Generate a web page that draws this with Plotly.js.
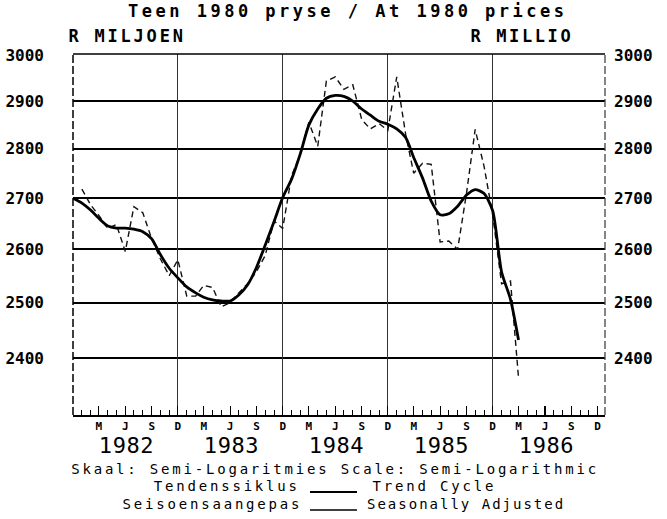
<!DOCTYPE html>
<html><head><meta charset="utf-8">
<script src="https://cdn.plot.ly/plotly-3.0.1.min.js"></script>
<style>html,body{margin:0;padding:0;background:#fff}</style>
</head><body>
<div id="chart" style="width:667px;height:519px"></div>
<script>
// ---- data ----
const trendMonths = ['1981-12',
 '1982-01','1982-02','1982-03','1982-04','1982-05','1982-06','1982-07','1982-08','1982-09','1982-10','1982-11','1982-12',
 '1983-01','1983-02','1983-03','1983-04','1983-05','1983-06','1983-07','1983-08','1983-09','1983-10','1983-11','1983-12',
 '1984-01','1984-02','1984-03','1984-04','1984-05','1984-06','1984-07','1984-08','1984-09','1984-10','1984-11','1984-12',
 '1985-01','1985-02','1985-03','1985-04','1985-05','1985-06','1985-07','1985-08','1985-09','1985-10','1985-11','1985-12',
 '1986-01','1986-02','1986-03'];
const trendValues = [2700,
 2690,2676,2660,2645,2641,2641,2639,2634,2620,2590,2564,2546,
 2529,2518,2510,2505,2503,2503,2514,2533,2566,2608,2654,2701,
 2738,2791,2849,2883,2906,2912,2910,2900,2883,2870,2857,2851,
 2841,2823,2782,2740,2694,2667,2669,2684,2706,2717,2709,2675,
 2557,2506,2432];
const saMonths = [
 '1982-01','1982-02','1982-03','1982-04','1982-05','1982-06','1982-07','1982-08','1982-09','1982-10','1982-11','1982-12',
 '1983-01','1983-02','1983-03','1983-04','1983-05','1983-06','1983-07','1983-08','1983-09','1983-10','1983-11','1983-12',
 '1984-01','1984-02','1984-03','1984-04','1984-05','1984-06','1984-07','1984-08','1984-09','1984-10','1984-11','1984-12',
 '1985-01','1985-02','1985-03','1985-04','1985-05','1985-06','1985-07','1985-08','1985-09','1985-10','1985-11','1985-12',
 '1986-01','1986-02','1986-03'];
const saValues = [
 2718,2686,2666,2640,2648,2596,2683,2671,2620,2582,2550,2580,
 2512,2512,2532,2528,2492,2500,2518,2535,2558,2588,2655,2640,
 2745,2790,2855,2805,2943,2952,2925,2935,2861,2841,2852,2838,
 2952,2830,2750,2770,2768,2614,2616,2600,2710,2840,2764,2667,
 2535,2540,2365];
const monthTickVals = ['1982-03','1982-06','1982-09','1982-12','1983-03','1983-06','1983-09','1983-12',
 '1984-03','1984-06','1984-09','1984-12','1985-03','1985-06','1985-09','1985-12',
 '1986-03','1986-06','1986-09','1986-12'];
const monthTickText = ['M','J','S','D','M','J','S','D','M','J','S','D','M','J','S','D','M','J','S','D'];
const yearGridVals = ['1982-12','1983-12','1984-12','1985-12'];
const yearLabels = ['1982','1983','1984','1985','1986'];
const yTickVals = [2400,2500,2600,2700,2800,2900,3000];
const yTickText = ['2400','2500','2600','2700','2800','2900','3000'];
const titleText = 'Teen 1980 pryse / At 1980 prices';
const unitLeft = 'R MILJOEN';
const unitRight = 'R MILLIO';
const scaleText = 'Skaal: Semi-Logaritmies Scale: Semi-Logarithmic';
const legendLeft = ['Tendenssiklus','Seisoensaangepas'];
const legendRight = ['Trend Cycle','Seasonally Adjusted'];

// ---- style ----
const MONO = 'DejaVu Sans Mono, monospace';
const L = 73, R = 605, T = 54, B = 415;
const px = x => (x - L) / (R - L);
const py = y => (B - y) / (B - T);

const traces = [
 {x: saMonths, y: saValues, type:'scatter', mode:'lines', hoverinfo:'skip',
  line:{color:'#111', width:1.4, dash:'6px,4px'}, showlegend:false},
 {x: trendMonths, y: trendValues, type:'scatter', mode:'lines', hoverinfo:'skip',
  line:{color:'#000', width:2.8, shape:'spline', smoothing:0.7}, showlegend:false},
 {x: trendMonths, y: trendValues, xaxis:'x2', yaxis:'y2', type:'scatter', mode:'lines',
  hoverinfo:'skip', line:{color:'rgba(0,0,0,0)', width:0}, showlegend:false}
];

const annotations = [];
const spacing = [];
function ann(text, x, y, size, bold, ls, extra) {
  annotations.push(Object.assign({text, xref:'paper', yref:'paper', x, y, xanchor:'center', yanchor:'middle',
    showarrow:false, font:{family:MONO, size, color:'#000', weight: bold ? 'bold' : 'normal'}}, extra||{}));
  spacing.push(ls);
}
ann(titleText, px(347.5), py(11), 17, true, 3.5);
ann(unitLeft, px(127), py(36), 17, true, 2.8);
ann(unitRight, px(521.5), py(36), 17, true, 2.6);
yearLabels.forEach(yr => {
  annotations.push({text: yr, xref:'x', yref:'paper', x: yr + '-06-05', y: py(445), xanchor:'center', yanchor:'middle',
    showarrow:false, font:{family:MONO, size:22, color:'#000'}});
  spacing.push(0.6);
});
ann(scaleText, px(334.5), py(469), 14, false, 2.8);
ann(legendLeft[0], px(226.5), py(486), 14, false, 2.8);
ann(legendRight[0], px(434.5), py(486), 14, false, 2.8);
ann(legendLeft[1], px(212), py(504), 14, false, 2.8);
ann(legendRight[1], px(466), py(504), 14, false, 2.0);

const shapes = [
 {type:'line', xref:'paper', yref:'paper', x0:0, x1:0, y0:0, y1:1, line:{color:'#000', width:1.5, dash:'8px,3px'}},
 {type:'line', xref:'paper', yref:'paper', x0:1, x1:1, y0:0, y1:1, line:{color:'#444', width:1.3, dash:'8px,3px'}},
 {type:'line', xref:'paper', yref:'paper', x0:0, x1:1, y0:1, y1:1, line:{color:'#000', width:1.5}},
 {type:'line', xref:'paper', yref:'paper', x0:px(310), x1:px(357), y0:py(492), y1:py(492), line:{color:'#000', width:2}},
 {type:'line', xref:'paper', yref:'paper', x0:px(310), x1:px(357), y0:py(510), y1:py(510), line:{color:'#000', width:1.5}}
];

const yRange = [Math.log10(3000) - (B - 55) / 3127, Math.log10(3000) + (55 - T) / 3127];

const layout = {
  width:667, height:519, margin:{l:L, r:667-R, t:T, b:519-B, pad:0},
  paper_bgcolor:'#fff', plot_bgcolor:'#fff', showlegend:false,
  xaxis:{type:'date', range:['1981-12-01','1986-12-27'], tickmode:'array', tickvals:monthTickVals, ticktext:monthTickText,
    ticks:'inside', ticklen:9, tickwidth:1.2, tickcolor:'#000', showgrid:false, zeroline:false,
    showline:true, linecolor:'#000', linewidth:1.5, ticklabelstandoff:0,
    tickfont:{family:MONO, size:11, color:'#000', weight:'bold'},
    minor:{ticks:'inside', ticklen:5, tickwidth:1, tickcolor:'#000', tickmode:'linear', tick0:'1981-12-01', dtick:'M1', showgrid:false}},
  xaxis2:{type:'date', overlaying:'x', matches:'x', side:'bottom', tickmode:'array', tickvals:yearGridVals,
    showticklabels:false, ticks:'', showgrid:true, gridcolor:'#333', gridwidth:1.2, zeroline:false, showline:false},
  yaxis:{type:'log', range:yRange, tickmode:'array', tickvals:yTickVals, ticktext:yTickText, ticks:'',
    showgrid:true, gridcolor:'#000', gridwidth:2, zeroline:false, showline:false, ticklabelstandoff:28,
    tickfont:{family:MONO, size:16, color:'#000', weight:'bold'}},
  yaxis2:{type:'log', overlaying:'y', matches:'y', side:'right', tickmode:'array', tickvals:yTickVals, ticktext:yTickText,
    ticks:'', showgrid:false, zeroline:false, showline:false, ticklabelstandoff:8,
    tickfont:{family:MONO, size:16, color:'#000', weight:'bold'}},
  annotations, shapes
};

Plotly.newPlot('chart', traces, layout, {staticPlot:true}).then(gd => {
  gd.querySelectorAll('g.annotation').forEach(g => {
    const i = +g.getAttribute('data-index');
    const t = g.querySelector('text');
    if (t && spacing[i]) t.style.letterSpacing = spacing[i] + 'px';
  });
});
</script>
</body></html>
